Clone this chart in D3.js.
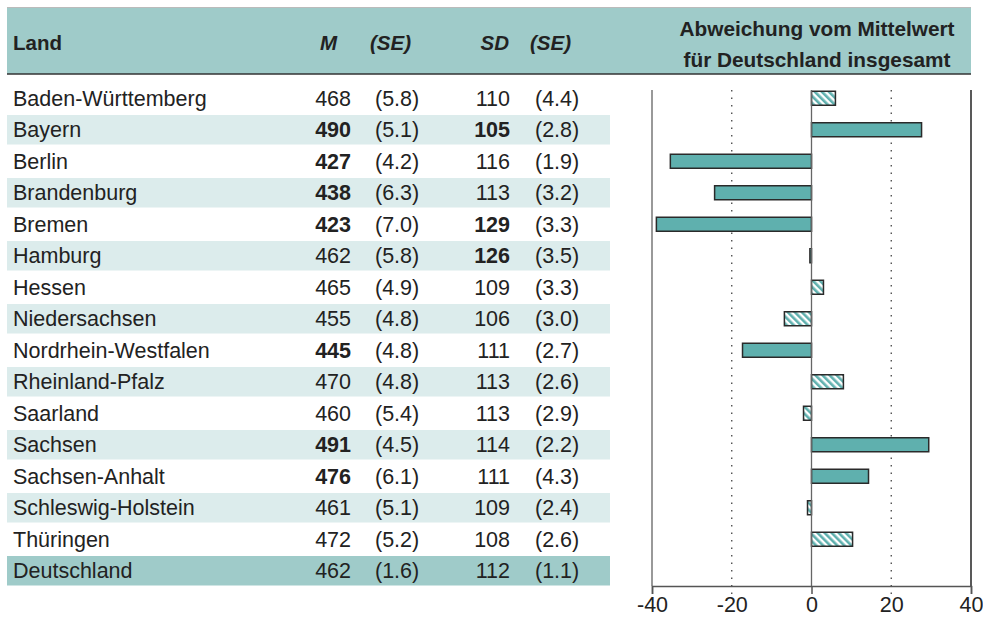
<!DOCTYPE html>
<html>
<head>
<meta charset="utf-8">
<script src="https://cdn.jsdelivr.net/npm/d3@7"></script>
<style>
  body { margin: 0; background: #fff; }
  svg { font-family: "Liberation Sans", Arial, sans-serif; }
</style>
</head>
<body>
<div id="chart"></div>
<script>
// table data
const lands = ["Baden-Württemberg", "Bayern", "Berlin", "Brandenburg", "Bremen", "Hamburg", "Hessen", "Niedersachsen",
  "Nordrhein-Westfalen", "Rheinland-Pfalz", "Saarland", "Sachsen", "Sachsen-Anhalt", "Schleswig-Holstein", "Thüringen", "Deutschland"];
const mValues = [468, 490, 427, 438, 423, 462, 465, 455, 445, 470, 460, 491, 476, 461, 472, 462];
const mSE = ["5.8", "5.1", "4.2", "6.3", "7.0", "5.8", "4.9", "4.8", "4.8", "4.8", "5.4", "4.5", "6.1", "5.1", "5.2", "1.6"];
const sdValues = [110, 105, 116, 113, 129, 126, 109, 106, 111, 113, 113, 114, 111, 109, 108, 112];
const sdSE = ["4.4", "2.8", "1.9", "3.2", "3.3", "3.5", "3.3", "3.0", "2.7", "2.6", "2.9", "2.2", "4.3", "2.4", "2.6", "1.1"];
const mBold = [false, true, true, true, true, false, false, false, true, false, false, true, true, false, false, false];
const sdBold = [false, true, false, false, true, true, false, false, false, false, false, false, false, false, false, false];

// deviation from the German mean (bars), Deutschland row has no bar
const deviations = [6, 27.6, -35.4, -24.3, -38.9, -0.4, 3, -6.8, -17.3, 8, -2, 29.4, 14.3, -1, 10.3];
const significant = [false, true, true, true, true, true, false, false, true, false, false, true, true, false, false];

const xTicks = [-40, -20, 0, 20, 40];

const width = 983, height = 618;
const teal = "#5fb0ae", headerFill = "#9fcbc9", lightFill = "#dcecec", ink = "#222";
const fs = 21.5;

const svg = d3.select("#chart").append("svg").attr("width", width).attr("height", height);

const defs = svg.append("defs");
const pat = defs.append("pattern").attr("id", "hatch")
  .attr("patternUnits", "userSpaceOnUse").attr("width", 5).attr("height", 5)
  .attr("patternTransform", "rotate(-45)");
pat.append("rect").attr("width", 5).attr("height", 5).attr("fill", "#fff");
pat.append("rect").attr("width", 2.6).attr("height", 5).attr("fill", teal);

const y = d3.scaleBand().domain(lands).range([82.5, 586.5]);
const x = d3.scaleLinear().domain([-40, 40]).range([652, 971]);

// header band
svg.append("rect").attr("x", 7).attr("y", 8).attr("width", 964).attr("height", 66).attr("fill", headerFill);
svg.append("line").attr("x1", 7).attr("x2", 971).attr("y1", 7.5).attr("y2", 7.5).attr("stroke", "#bbb").attr("stroke-width", 1);
svg.append("line").attr("x1", 7).attr("x2", 971).attr("y1", 74).attr("y2", 74).attr("stroke", "#333").attr("stroke-width", 1.5);

const head = svg.append("g").attr("font-weight", "bold").attr("font-size", 20.5).attr("fill", ink);
head.append("text").attr("x", 13).attr("y", 50).text("Land");
head.append("text").attr("x", 337).attr("y", 50).attr("text-anchor", "end").attr("font-style", "italic").text("M");
head.append("text").attr("x", 370).attr("y", 50).attr("font-style", "italic").text("(SE)");
head.append("text").attr("x", 509).attr("y", 50).attr("text-anchor", "end").attr("font-style", "italic").text("SD");
head.append("text").attr("x", 530).attr("y", 50).attr("font-style", "italic").text("(SE)");
head.append("text").attr("x", 817).attr("y", 36).attr("text-anchor", "middle").attr("font-size", 20.8).text("Abweichung vom Mittelwert");
head.append("text").attr("x", 817).attr("y", 67).attr("text-anchor", "middle").attr("font-size", 20.8).text("für Deutschland insgesamt");

// row shading
svg.selectAll("rect.rowbg")
  .data(lands.filter((d, i) => i % 2 === 1 || i === lands.length - 1))
  .join("rect")
  .attr("class", "rowbg")
  .attr("x", 7)
  .attr("y", d => y(d) + 1)
  .attr("width", 603)
  .attr("height", y.bandwidth() - 2)
  .attr("fill", d => d === "Deutschland" ? headerFill : lightFill);

// table rows
const rows = svg.selectAll("g.row")
  .data(lands)
  .join("g")
  .attr("class", "row")
  .attr("transform", d => `translate(0,${y(d) + y.bandwidth() / 2 + 7.5})`)
  .attr("font-size", fs)
  .attr("fill", ink);

rows.append("text").attr("x", 13).text(d => d);
rows.append("text").attr("x", 351).attr("text-anchor", "end")
  .attr("font-weight", (d, i) => mBold[i] ? "bold" : "normal")
  .text((d, i) => mValues[i]);
rows.append("text").attr("x", 375).text((d, i) => `(${mSE[i]})`);
rows.append("text").attr("x", 510).attr("text-anchor", "end")
  .attr("font-weight", (d, i) => sdBold[i] ? "bold" : "normal")
  .text((d, i) => sdValues[i]);
rows.append("text").attr("x", 535).text((d, i) => `(${sdSE[i]})`);

// chart area
const plotTop = 90, plotBottom = 586;
const chartG = svg.append("g");

chartG.selectAll("line.grid")
  .data([-20, 20])
  .join("line")
  .attr("class", "grid")
  .attr("x1", d => x(d)).attr("x2", d => x(d))
  .attr("y1", plotTop).attr("y2", plotBottom + 8)
  .attr("stroke", "#444").attr("stroke-width", 1.3)
  .attr("stroke-dasharray", "1.5,6");

chartG.append("line").attr("x1", x(-40)).attr("x2", x(-40)).attr("y1", plotTop).attr("y2", plotBottom)
  .attr("stroke", "#777").attr("stroke-width", 1.5);
chartG.append("line").attr("x1", x(40)).attr("x2", x(40)).attr("y1", plotTop).attr("y2", plotBottom)
  .attr("stroke", "#222").attr("stroke-width", 1.5);

const barH = 14;
chartG.selectAll("rect.bar")
  .data(deviations)
  .join("rect")
  .attr("class", "bar")
  .attr("x", d => x(Math.min(0, d)))
  .attr("y", (d, i) => y(lands[i]) + y.bandwidth() / 2 - barH / 2)
  .attr("width", d => Math.abs(x(d) - x(0)))
  .attr("height", barH)
  .attr("fill", (d, i) => significant[i] ? teal : "url(#hatch)")
  .attr("stroke", "#2a2a2a")
  .attr("stroke-width", 1.5);

chartG.append("line").attr("x1", x(0)).attr("x2", x(0)).attr("y1", plotTop).attr("y2", plotBottom)
  .attr("stroke", "#666").attr("stroke-width", 1.3);

// bottom axis
const axis = d3.axisBottom(x).tickValues(xTicks).tickSize(8).tickPadding(3).tickFormat(d3.format("d"));
const axG = chartG.append("g").attr("transform", `translate(0,${plotBottom})`).call(axis);
axG.select(".domain").attr("stroke", "#555").attr("stroke-width", 1.5);
axG.selectAll(".tick line").attr("stroke", "#555").attr("stroke-width", 1.5)
  .attr("stroke-opacity", d => Math.abs(d) === 20 ? 0 : 1);
axG.selectAll(".tick text").attr("font-size", fs).attr("fill", ink)
  .attr("font-family", "'Liberation Sans', Arial, sans-serif")
  .text(d => d < 0 ? "-" + Math.abs(d) : d);
</script>
</body>
</html>
